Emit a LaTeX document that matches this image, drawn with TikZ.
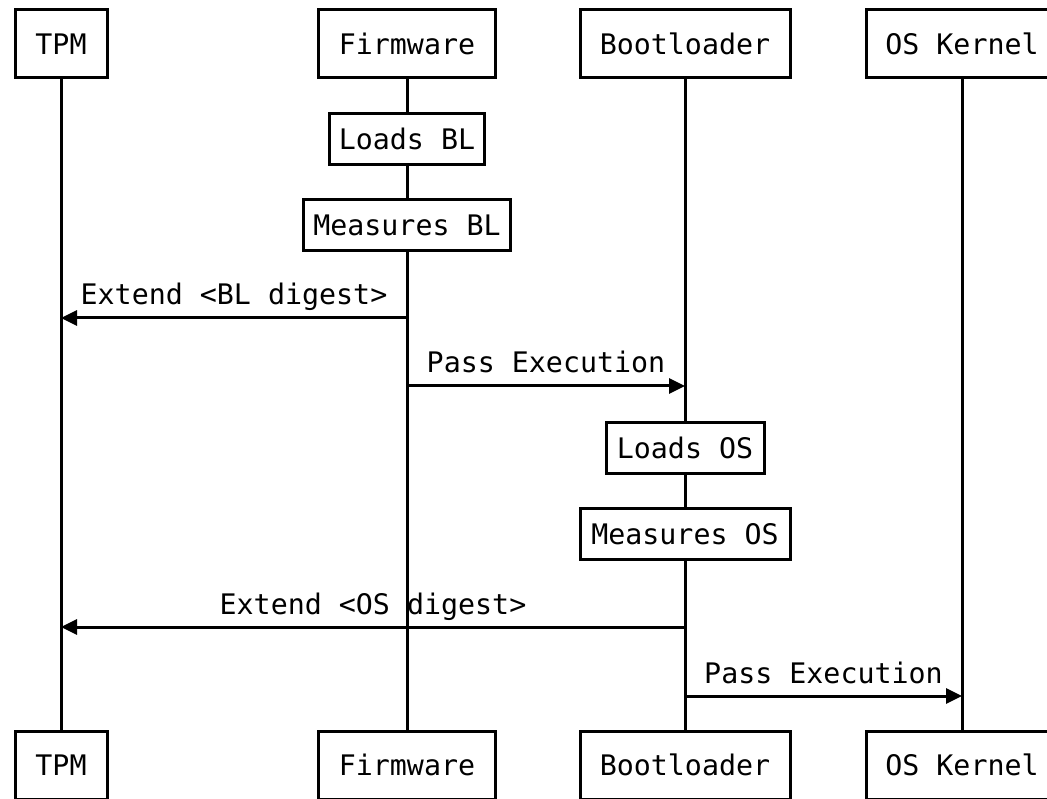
\documentclass[tikz,border=0pt]{standalone}
\usepackage{fontspec}
\setmonofont{DejaVu Sans Mono}
\usetikzlibrary{arrows.meta,backgrounds}
\begin{document}
\begin{tikzpicture}[x=1pt,y=-1pt,
  every node/.style={font=\ttfamily\fontsize{28.3}{32}\selectfont},
  actor/.style={draw,line width=3pt,fill=white,minimum height=68pt,inner sep=0pt},
  act/.style={draw,line width=3pt,fill=white,minimum height=51pt,inner sep=0pt},
  life/.style={line width=3pt},
  msg/.style={line width=3pt,-{Triangle[length=16pt,width=15pt]}},
  lbl/.style={anchor=base,yshift=13pt}]
\useasboundingbox (0,0) rectangle (1047,799);
% top actors
\node[actor,minimum width=92pt]  (tpmT) at (61,44)  {TPM};
\node[actor,minimum width=177pt] (fwT)  at (407,44) {Firmware};
\node[actor,minimum width=210pt] (blT)  at (685,44) {Bootloader};
\node[actor,minimum width=192pt] (osT)  at (962,44) {OS Kernel};
% bottom actors
\node[actor,minimum width=92pt]  (tpmB) at (61,765)  {TPM};
\node[actor,minimum width=177pt] (fwB)  at (407,765) {Firmware};
\node[actor,minimum width=210pt] (blB)  at (685,765) {Bootloader};
\node[actor,minimum width=192pt] (osB)  at (962,765) {OS Kernel};
% activity boxes
\node[act,minimum width=155pt] (loadBL) at (407,139) {Loads BL};
\node[act,minimum width=207pt] (measBL) at (407,225) {Measures BL};
\node[act,minimum width=158pt] (loadOS) at (685,448) {Loads OS};
\node[act,minimum width=210pt] (measOS) at (685,534) {Measures OS};
% lifelines
\begin{scope}[on background layer]
\draw[life] (tpmT.south) -- (tpmB.north);
\draw[life] (fwT.south) -- (fwB.north);
\draw[life] (blT.south) -- (blB.north);
\draw[life] (osT.south) -- (osB.north);
\end{scope}
% message endpoints
\coordinate (m1a) at (407,318); \coordinate (m1b) at (61,318);
\coordinate (m2a) at (407,386); \coordinate (m2b) at (685,386);
\coordinate (m3a) at (685,627); \coordinate (m3b) at (61,627);
\coordinate (m4a) at (685,696); \coordinate (m4b) at (962,696);
\draw[msg] (m1a) -- (m1b) node[midway,lbl] {Extend <BL digest>};
\draw[msg] (m2a) -- (m2b) node[midway,lbl] {Pass Execution};
\draw[msg] (m3a) -- (m3b) node[midway,lbl] {Extend <OS digest>};
\draw[msg] (m4a) -- (m4b) node[midway,lbl] {Pass Execution};
\end{tikzpicture}
\end{document}
